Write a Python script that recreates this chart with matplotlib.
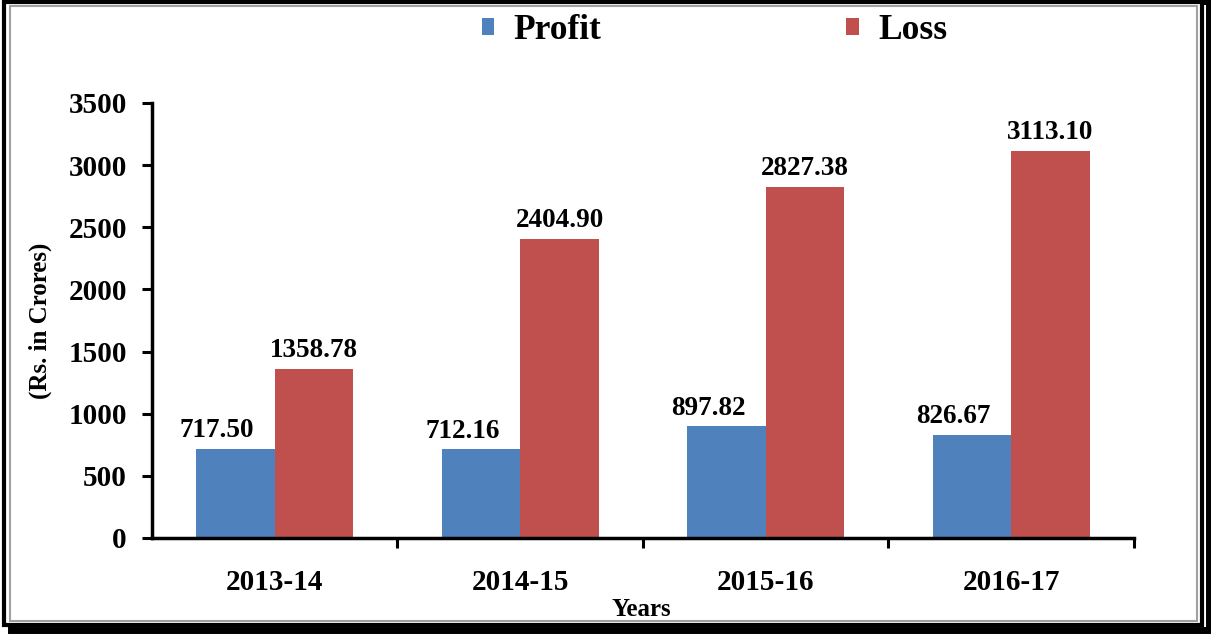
import numpy as np
import matplotlib.pyplot as plt
from matplotlib.patches import Rectangle

years = ["2013-14", "2014-15", "2015-16", "2016-17"]
profit = [717.50, 712.16, 897.82, 826.67]
loss = [1358.78, 2404.90, 2827.38, 3113.10]

plt.rcParams["font.family"] = ["Liberation Serif", "DejaVu Serif"]
plt.rcParams["font.weight"] = "bold"

fig = plt.figure(figsize=(12.11, 6.35), dpi=100)
ax = fig.add_axes([0.1255, 0.1528, 0.8109, 0.685])
ax.set_zorder(2)
ax.patch.set_alpha(0)

x = np.arange(len(years))
w = 0.32
b1 = ax.bar(x - w / 2, profit, w, color="#4F81BD", label="Profit")
b2 = ax.bar(x + w / 2, loss, w, color="#C0504D", label="Loss")

# profit labels sit a little left of their bars, loss labels centred
for bars, vals, dx in ((b1, profit, -0.075), (b2, loss, 0.0)):
    for bar, v in zip(bars, vals):
        ax.text(bar.get_x() + bar.get_width() / 2 + dx, v + 95, f"{v:.2f}",
                ha="center", va="baseline", fontsize=19.5, fontweight="bold")

ax.set_xlim(-0.5, 3.5)
ax.set_ylim(0, 3500)
ax.set_yticks(np.arange(0, 3501, 500))
ax.set_xticks(x + 0.5)
ax.set_xticklabels([])
ax.set_xticks(x, minor=True)
ax.set_xticklabels(years, minor=True)
ax.tick_params(axis="x", which="minor", length=0, pad=22, labelsize=21)
ax.tick_params(axis="x", which="major", length=7, width=2.2, direction="out")
ax.tick_params(axis="y", length=7, width=2.2, direction="out", labelsize=21, pad=11)
for lab in ax.get_yticklabels() + ax.get_xticklabels(minor=True):
    lab.set_fontweight("bold")

for s in ("top", "right"):
    ax.spines[s].set_visible(False)
for s in ("left", "bottom"):
    ax.spines[s].set_linewidth(2.5)

ax.set_ylabel("(Rs. in Crores)", fontsize=18, fontweight="bold")
ax.set_xlabel("Years", fontsize=18, fontweight="bold")
ax.yaxis.set_label_coords(-0.102, 0.5)
ax.xaxis.set_label_coords(0.4985, -0.138)

leg = fig.legend(handles=[b1, b2], loc="center", bbox_to_anchor=(0.590, 0.952),
                 ncol=2, frameon=False, handlelength=0.36,
                 handleheight=0.36, handletextpad=0.55, columnspacing=6.9,
                 prop={"size": 25.5, "weight": "bold"})
leg.set_zorder(3)

# frame with shadow
fig.patches.append(Rectangle((0.009, 0.008), 0.989, 0.99, transform=fig.transFigure,
                             fill=False, edgecolor="black", linewidth=5, zorder=-3))
fig.patches.append(Rectangle((0.0035, 0.015), 0.989, 0.982, transform=fig.transFigure,
                             facecolor="white", edgecolor="black", linewidth=3, zorder=-2))
fig.patches.append(Rectangle((0.0085, 0.022), 0.980, 0.968, transform=fig.transFigure,
                             fill=False, edgecolor="#A0A0A0", linewidth=1.5, zorder=-1))

fig.savefig("out.png", dpi=100)
